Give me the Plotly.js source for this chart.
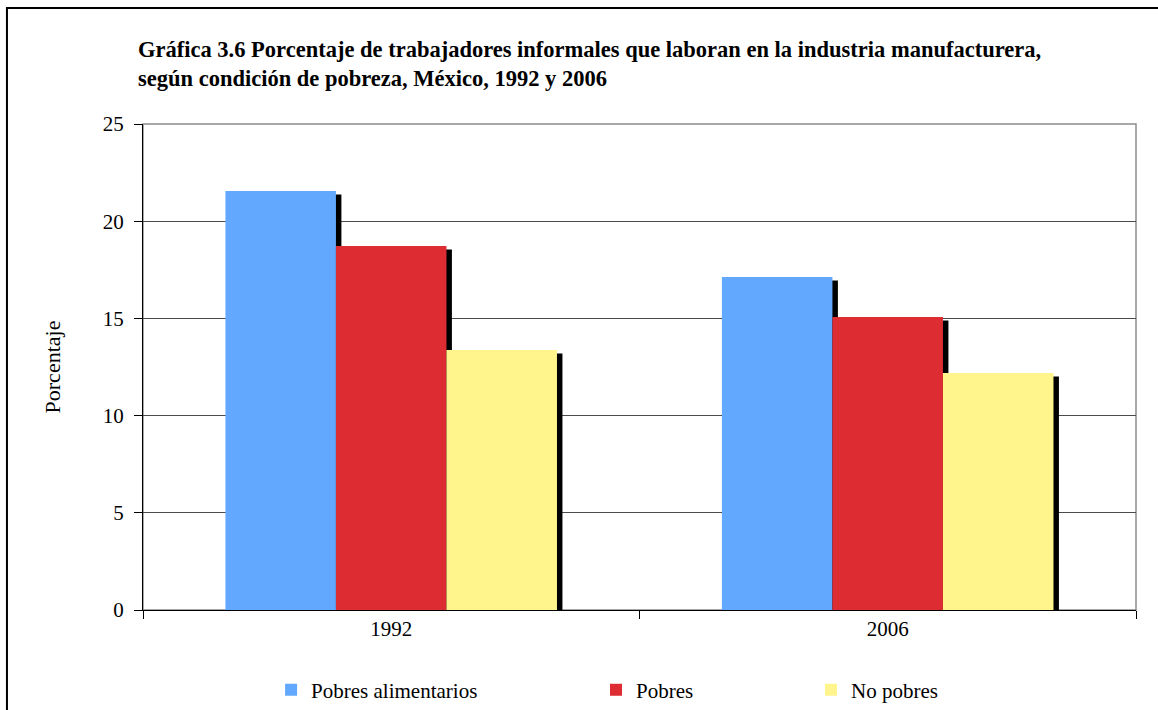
<!DOCTYPE html>
<html>
<head>
<meta charset="utf-8">
<script src="https://cdn.plot.ly/plotly-3.0.1.min.js"></script>
<style>html,body{margin:0;padding:0;background:#fff;}#chart{width:1158px;height:710px;}</style>
</head>
<body>
<div id="chart"></div>
<script>
const years = ['1992', '2006'];
const pobresAlimentarios = [21.55, 17.13];
const pobres = [18.72, 15.07];
const noPobres = [13.37, 12.19];
const seriesNames = ['Pobres alimentarios', 'Pobres', 'No pobres'];
const seriesColors = ['#62A8FE', '#DD2C32', '#FFF58C'];
const seriesValues = [pobresAlimentarios, pobres, noPobres];

const barWidth = 0.2226;
const offsets = [-0.334, -0.1114, 0.1112];
const shadowDx = 0.011;
const shadowDy = 0.18;
const legendIds = ['legend', 'legend2', 'legend3'];

const traces = [];
// shadows first (drawn underneath)
seriesValues.forEach((vals, i) => {
  traces.push({
    type: 'bar', x: years, y: vals, base: -shadowDy,
    width: barWidth, offset: offsets[i] + shadowDx,
    marker: {color: '#000000', line: {width: 0}},
    showlegend: false, hoverinfo: 'skip'
  });
});
seriesValues.forEach((vals, i) => {
  traces.push({
    type: 'bar', x: years, y: vals, name: seriesNames[i],
    width: barWidth, offset: offsets[i],
    marker: {color: seriesColors[i], line: {width: 0}},
    legend: legendIds[i]
  });
});

const fontFam = 'Liberation Serif';
const legendBase = {orientation: 'h', yanchor: 'middle', xanchor: 'left', yref: 'container', y: 0.028,
  font: {family: fontFam, size: 21, color: '#000'}, bgcolor: 'rgba(0,0,0,0)', borderwidth: 0};

const layout = {
  width: 1158, height: 710,
  margin: {l: 143, r: 22, t: 124, b: 100},
  paper_bgcolor: '#ffffff', plot_bgcolor: '#ffffff',
  barmode: 'overlay',
  font: {family: fontFam, size: 21, color: '#000'},
  title: {
    text: '<b>Gráfica 3.6 Porcentaje de trabajadores informales que laboran en la industria manufacturera,<br>según condición de pobreza, México, 1992 y 2006</b>',
    font: {family: fontFam, size: 22.5, color: '#000'},
    xref: 'container', yref: 'container', x: 0.1192, xanchor: 'left', y: 0.92, yanchor: 'top'
  },
  xaxis: {
    type: 'category', tickson: 'boundaries', ticks: 'outside', ticklen: 8, tickcolor: '#000',
    showline: true, linecolor: '#000', linewidth: 1, showgrid: false,
    tickfont: {family: fontFam, size: 21, color: '#000'}, fixedrange: true
  },
  yaxis: {
    range: [0, 25], tickvals: [0, 5, 10, 15, 20, 25], ticks: 'outside', ticklen: 8, tickcolor: '#000',
    showline: true, linecolor: '#000', linewidth: 1,
    showgrid: true, gridcolor: '#4a4a4a', gridwidth: 1, zeroline: false,
    tickfont: {family: fontFam, size: 21, color: '#000'}, ticklabelstandoff: 6,
    title: {text: 'Porcentaje', font: {family: fontFam, size: 22, color: '#000'}, standoff: 36},
    fixedrange: true
  },
  legend: Object.assign({}, legendBase, {x: 0.129}),
  legend2: Object.assign({}, legendBase, {x: 0.4562}),
  legend3: Object.assign({}, legendBase, {x: 0.6727}),
  shapes: [
    {type: 'rect', xref: 'paper', yref: 'paper', x0: 0, x1: 1, y0: 0, y1: 1,
     line: {color: '#8c8c8c', width: 1.5}, layer: 'below'},
    {type: 'rect', xref: 'paper', yref: 'paper', x0: -0.137, x1: 1.1, y0: -0.4, y1: 1.2387,
     line: {color: '#000', width: 2}, fillcolor: 'rgba(0,0,0,0)', layer: 'above'}
  ],
  showlegend: true
};

Plotly.newPlot('chart', traces, layout, {displayModeBar: false, staticPlot: true});
</script>
</body>
</html>
